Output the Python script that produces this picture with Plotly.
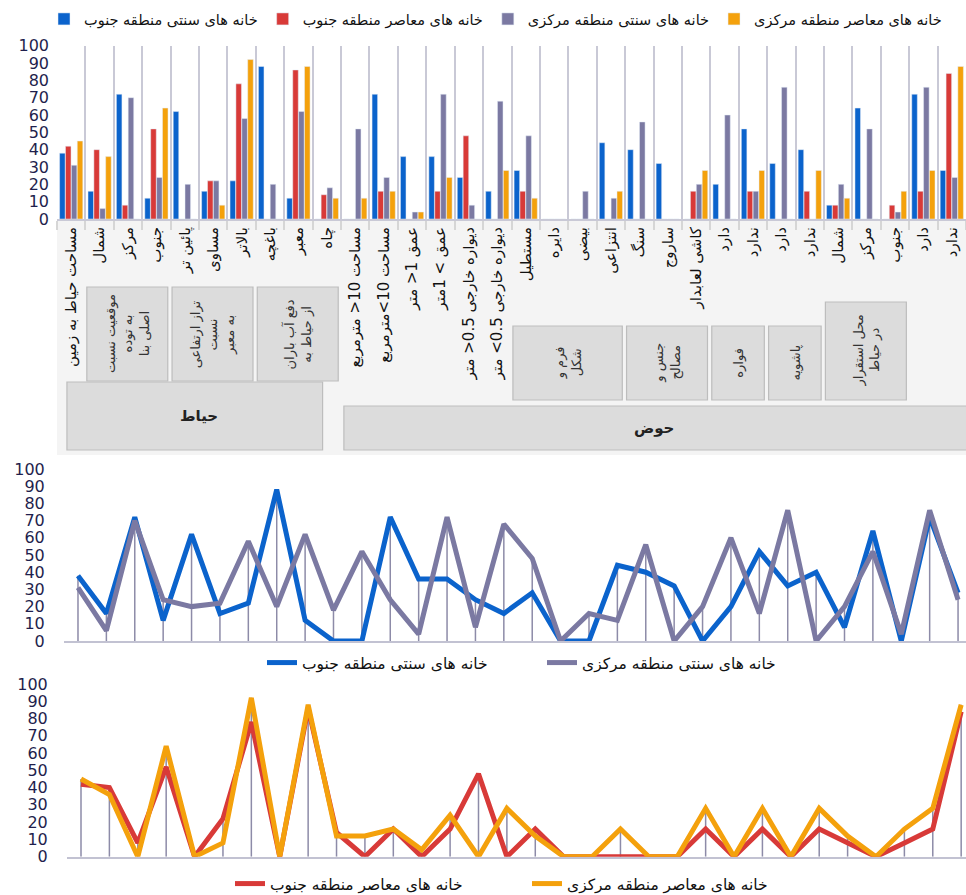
import numpy as np
import plotly.graph_objects as go

W, H = 966, 895

categories = [
    "مساحت حیاط به زمین", "شمال", "مرکز", "جنوب", "پائین تر", "مساوی", "بالاتر",
    "باغچه", "معبر", "چاه",
    "مساحت 10< مترمربع", "مساحت 10>مترمربع", "عمق 1< متر", "عمق > 1متر",
    "دیواره خارجی 0.5< متر", "دیواره خارجی 0.5> متر",
    "مستطیل", "دایره", "بیضی", "انتزاعی", "سنگ", "ساروج", "کاشی لعابدار",
    "دارد", "ندارد", "دارد", "ندارد", "شمال", "مرکز", "جنوب", "دارد", "ندارد",
]

series_names = [
    "خانه های سنتی منطقه جنوب",
    "خانه های معاصر منطقه جنوب",
    "خانه های سنتی منطقه مرکزی",
    "خانه های معاصر منطقه مرکزی",
]

trad_south = [38, 16, 72, 12, 62, 16, 22, 88, 12, 0, 0, 72, 36, 36, 24, 16, 28, 0, 0, 44,
              40, 32, 0, 20, 52, 32, 40, 8, 64, 0, 72, 28]
mod_south = [42, 40, 8, 52, 0, 22, 78, 0, 86, 14, 0, 16, 0, 16, 48, 0, 16, 0, 0, 0,
             0, 0, 16, 0, 16, 0, 16, 8, 0, 8, 16, 84]
trad_central = [31, 6, 70, 24, 20, 22, 58, 20, 62, 18, 52, 24, 4, 72, 8, 68, 48, 0, 16, 12,
                56, 0, 20, 60, 16, 76, 0, 20, 52, 4, 76, 24]
mod_central = [45, 36, 0, 64, 0, 8, 92, 0, 88, 12, 12, 16, 4, 24, 0, 28, 12, 0, 0, 16,
               0, 0, 28, 0, 28, 0, 28, 12, 0, 16, 28, 88]

y_ticks = [0, 10, 20, 30, 40, 50, 60, 70, 80, 90, 100]

# group labels: (text, first category index, last category index)
level2_groups = [
    ("موقعیت نسبت<br>به توده<br>اصلی بنا", 1, 3),
    ("تراز ارتفاعی<br>نسبت<br>به معبر", 4, 6),
    ("دفع آب باران<br>از حیاط به", 7, 9),
    ("فرم و<br>شکل", 16, 19),
    ("جنس و<br>مصالح", 20, 22),
    ("فواره", 23, 24),
    ("پاشویه", 25, 26),
    ("محل استقرار<br>در حیاط", 27, 29),
]
level1_groups = [("حیاط", 0, 9), ("حوض", 10, 31)]

# ---------------- styling ----------------
colors = ["#0b63cc", "#d83a38", "#7b79a2", "#f4a10c"]
tick_color = "#1f1f4d"
FONT = "DejaVu Sans"

def py(p):
    return 1 - p / H

def px(p):
    return p / W

ids = [str(i) for i in range(len(categories))]
values = [trad_south, mod_south, trad_central, mod_central]

fig = go.Figure()

# bar chart
for name, vals, col in zip(series_names, values, colors):
    fig.add_trace(go.Bar(x=ids, y=vals, name=name, marker_color=col,
                         xaxis="x", yaxis="y", legend="legend"))

line1 = [(series_names[0], trad_south, colors[0]), (series_names[2], trad_central, colors[2])]
line2 = [(series_names[1], mod_south, colors[1]), (series_names[3], mod_central, colors[3])]

for (pairs, xa, ya, lg) in [(line1, "x2", "y2", "legend2"), (line2, "x3", "y3", "legend3")]:
    top = np.maximum(pairs[0][1], pairs[1][1])
    fig.add_trace(go.Scatter(
        x=ids, y=top, mode="markers", marker=dict(size=1, color="rgba(0,0,0,0)"),
        error_y=dict(type="data", symmetric=False, array=[0] * len(ids), arrayminus=top,
                     color="#8d8ba8", thickness=1.5, width=0),
        showlegend=False, hoverinfo="skip", xaxis=xa, yaxis=ya))
    for name, vals, col in pairs:
        fig.add_trace(go.Scatter(x=ids, y=vals, mode="lines", name=name,
                                 line=dict(color=col, width=5), xaxis=xa, yaxis=ya,
                                 legend=lg))

tickfont_bar = dict(family=FONT, size=16, color=tick_color)
tickfont_line = dict(family=FONT, size=16, color=tick_color)

fig.update_layout(
    width=W, height=H,
    margin=dict(l=0, r=0, t=0, b=0, autoexpand=False),
    paper_bgcolor="white", plot_bgcolor="white",
    barmode="group", bargap=0.17, bargroupgap=0.06,
    font=dict(family=FONT, color="#222"),
    xaxis=dict(domain=[px(57), 1], type="category", tickmode="array",
               tickvals=ids, ticktext=categories, tickangle=-90,
               tickson="boundaries", ticks="outside", ticklen=9, tickcolor="#d6d6d6",
               tickwidth=1.5,
               showgrid=True, gridcolor="#c9c9d6", gridwidth=2,
               showline=True, linecolor="#c9c9d6", linewidth=2,
               tickfont=dict(family=FONT, size=15, color="#111"),
               range=[-0.5, len(ids) - 0.5], anchor="y", automargin=False),
    yaxis=dict(domain=[py(219), py(45.7)], range=[0, 100], tickvals=y_ticks,
               showgrid=False, zeroline=False, tickfont=tickfont_bar,
               ticklabelstandoff=7, anchor="x", automargin=False),
    xaxis2=dict(domain=[px(63.8), 1], type="category", range=[-0.5, 31.28],
                showticklabels=False, showgrid=False, ticks="",
                showline=True, linecolor="#c2c2d2", linewidth=2, anchor="y2"),
    yaxis2=dict(domain=[py(641), py(469)], range=[0, 100], tickvals=y_ticks,
                showgrid=False, zeroline=False, tickfont=tickfont_line,
                ticklabelstandoff=18, anchor="x2", automargin=False),
    xaxis3=dict(domain=[px(66.8), 1], type="category", range=[-0.5, 31.17],
                showticklabels=False, showgrid=False, ticks="",
                showline=True, linecolor="#c2c2d2", linewidth=2, anchor="y3"),
    yaxis3=dict(domain=[py(856.7), py(684)], range=[0, 100], tickvals=y_ticks,
                showgrid=False, zeroline=False, tickfont=tickfont_line,
                ticklabelstandoff=18, anchor="x3", automargin=False),
    legend=dict(orientation="h", x=px(44), y=py(19), xanchor="left", yanchor="middle",
                font=dict(family=FONT, size=14.5, color="#111"),
                bgcolor="rgba(0,0,0,0)"),
    legend2=dict(orientation="h", x=px(262), y=py(663), xanchor="left", yanchor="middle",
                 font=dict(family=FONT, size=15.5, color="#111"), entrywidth=235,
                 bgcolor="rgba(0,0,0,0)"),
    legend3=dict(orientation="h", x=px(230), y=py(884), xanchor="left", yanchor="middle",
                 font=dict(family=FONT, size=15.5, color="#111"), entrywidth=252,
                 bgcolor="rgba(0,0,0,0)"),
)

shapes = []
annotations = []
# light background of the label area
shapes.append(dict(type="rect", xref="paper", yref="paper", x0=px(57), x1=1,
                   y0=py(455), y1=py(220), fillcolor="#f4f4f4", line=dict(width=0),
                   layer="below"))

box_fill = "#dcdcdc"
box_line = dict(color="#bdbdbd", width=1.2)
l2_rows = {True: (287, 381), False: (326, 400)}
for text, a, b in level2_groups:
    in_yard = b <= 9
    top, bot = l2_rows[in_yard]
    if text.startswith("محل"):
        top = 302
    shapes.append(dict(type="rect", xref="x", yref="paper", x0=a - 0.45, x1=b + 0.4,
                       y0=py(bot), y1=py(top), fillcolor=box_fill, line=box_line,
                       layer="below"))
    annotations.append(dict(xref="x", yref="paper", x=(a + b) / 2, y=py((top + bot) / 2),
                            text=text, textangle=-90, showarrow=False,
                            font=dict(family=FONT, size=13, color="#333")))

l1_rows = {0: (382, 450), 10: (406, 450)}
for text, a, b in level1_groups:
    top, bot = l1_rows[a]
    x0 = a - 0.15 if a == 0 else a - 0.4
    x1 = b - 0.15 if b < 31 else b + 0.6
    shapes.append(dict(type="rect", xref="x", yref="paper", x0=x0, x1=x1,
                       y0=py(bot), y1=py(top), fillcolor=box_fill, line=box_line,
                       layer="below"))
    annotations.append(dict(xref="x", yref="paper", x=(a + b) / 2, y=py((top + bot) / 2),
                            text="<b>" + text + "</b>", showarrow=False,
                            font=dict(family=FONT, size=15, color="#222")))

fig.update_layout(shapes=shapes, annotations=annotations)

fig.write_html("out.html", config={"displayModeBar": False},
               post_script="document.body.style.margin='0px';"
                           "document.body.style.overflow='hidden';")
